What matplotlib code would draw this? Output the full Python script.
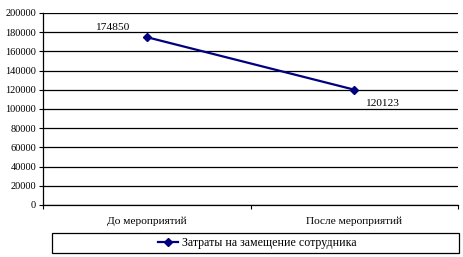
import matplotlib.pyplot as plt
from matplotlib.patches import Rectangle

categories = ['До мероприятий', 'После мероприятий']
costs = [174850, 120123]
series_name = 'Затраты на замещение сотрудника'
yticks = list(range(0, 200001, 20000))

plt.rcParams['font.family'] = ['Liberation Serif', 'DejaVu Serif']

fig = plt.figure(figsize=(4.63, 2.57), dpi=100)
ax = fig.add_axes([43 / 463, 1 - 205 / 257, 415 / 463, 192 / 257])

x = range(len(categories))
ax.plot(x, costs, color='#000080', linewidth=1.6, marker='D', markersize=4.5,
        label=series_name)

# data labels
ax.annotate(f'{costs[0]}', (0, costs[0]), xytext=(-25, 7), textcoords='offset points',
            ha='center', va='center', fontsize=8.2)
ax.annotate(f'{costs[1]}', (1, costs[1]), xytext=(20, -10), textcoords='offset points',
            ha='center', va='center', fontsize=8.2)

ax.set_xlim(-0.5, 1.5)
ax.set_ylim(0, 200000)
ax.set_yticks(yticks)
ax.set_yticklabels([str(v) for v in yticks], fontsize=7.5)
ax.set_xticks([-0.5, 0.5, 1.5])
ax.set_xticklabels([])
ax.set_xticks(list(x), minor=True)
ax.set_xticklabels(categories, minor=True, fontsize=8.2)
ax.tick_params(axis='x', which='minor', length=0, pad=8)
ax.tick_params(axis='x', which='major', length=3, width=0.8)
ax.tick_params(axis='y', length=3, width=0.8, pad=2)

ax.grid(axis='y', color='black', linewidth=0.9)
ax.set_axisbelow(True)
for side in ['top', 'right']:
    ax.spines[side].set_visible(False)
ax.spines['left'].set_linewidth(0.9)
ax.spines['bottom'].set_linewidth(0.9)

# legend box
fig.patches.append(Rectangle((52 / 463, 1 - 253 / 257), 407 / 463, 20 / 257,
                             transform=fig.transFigure, fill=False,
                             edgecolor='black', linewidth=0.9))
fig.legend(loc='center', bbox_to_anchor=(257 / 463, 1 - 243 / 257),
           fontsize=8.6, frameon=False, handlelength=1.7, handletextpad=0.3,
           borderaxespad=0, borderpad=0)

fig.savefig('out.png', dpi=100)
